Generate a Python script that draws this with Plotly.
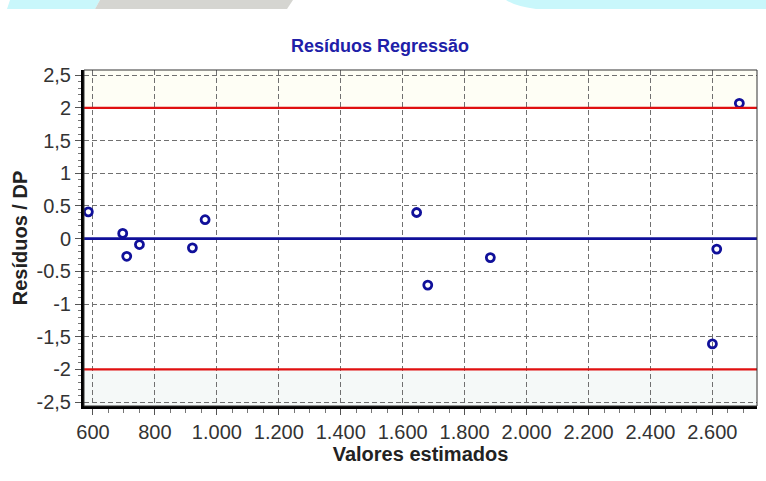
import plotly.graph_objects as go

# Fitted values and standardized residuals
valores_estimados = [585, 696, 709, 750, 921, 962, 1645, 1681, 1883, 2600, 2614, 2687]
residuos_dp = [0.41, 0.08, -0.27, -0.09, -0.14, 0.29, 0.40, -0.71, -0.29, -1.61, -0.16, 2.07]

# Reference lines: control limits and zero
limites = [-2, 2]
linha_zero = 0

x_ticks = [600, 800, 1000, 1200, 1400, 1600, 1800, 2000, 2200, 2400, 2600]
x_ticktext = ["600", "800", "1.000", "1.200", "1.400", "1.600", "1.800",
              "2.000", "2.200", "2.400", "2.600"]
y_ticks = [2.5, 2, 1.5, 1, 0.5, 0, -0.5, -1, -1.5, -2, -2.5]
y_ticktext = ["2,5", "2", "1,5", "1", "0.5", "0", "-0.5", "-1", "-1,5", "-2", "-2,5"]

W, H = 766, 481
L, R, T, B = 84, 9, 70, 75
PW, PH = W - L - R, H - T - B


def px(x):
    return (x - L) / PW


def py(y):
    return (H - B - y) / PH


font = "Liberation Sans, Arial, sans-serif"

fig = go.Figure()
fig.add_trace(go.Scatter(
    x=valores_estimados, y=residuos_dp, mode="markers",
    marker=dict(symbol="circle-open", size=8, color="#10109a",
                line=dict(width=2.8, color="#10109a")),
    hoverinfo="x+y", showlegend=False,
))

shapes = []
# faint bands beyond the limits
shapes.append(dict(type="rect", xref="paper", yref="y", x0=0, x1=1,
                   y0=limites[1], y1=2.6, fillcolor="#fefef5",
                   line=dict(width=0), layer="below"))
shapes.append(dict(type="rect", xref="paper", yref="y", x0=0, x1=1,
                   y0=-2.6, y1=limites[0], fillcolor="#f5f9f8",
                   line=dict(width=0), layer="below"))
for lim in limites:
    shapes.append(dict(type="line", xref="paper", yref="y", x0=0, x1=1,
                       y0=lim, y1=lim, line=dict(color="#e01010", width=2.2)))
shapes.append(dict(type="line", xref="paper", yref="y", x0=0, x1=1,
                   y0=linha_zero, y1=linha_zero,
                   line=dict(color="#10109a", width=2.6)))
# thin frame on top/right
shapes.append(dict(type="rect", xref="paper", yref="paper", x0=0, x1=1,
                   y0=0, y1=1, line=dict(color="#333333", width=1)))

# decorative banner strip at the top of the page
shapes.append(dict(type="path", xref="paper", yref="paper",
                   path=f"M {px(7)},{py(9)} L {px(10)},{py(0)} L {px(100)},{py(0)} "
                        f"L {px(95)},{py(9)} Z",
                   fillcolor="#c9f7fb", line=dict(width=0), layer="below"))
shapes.append(dict(type="path", xref="paper", yref="paper",
                   path=f"M {px(95)},{py(9)} L {px(100)},{py(0)} L {px(293)},{py(0)} "
                        f"L {px(287)},{py(9)} Z",
                   fillcolor="#d5d5d1", line=dict(width=0), layer="below"))
shapes.append(dict(type="path", xref="paper", yref="paper",
                   path=f"M {px(506)},{py(0)} Q {px(515)},{py(6)} {px(536)},{py(9)} "
                        f"L {px(766)},{py(9)} L {px(766)},{py(0)} Z",
                   fillcolor="#c9f7fb", line=dict(width=0), layer="below"))

fig.update_layout(
    width=W, height=H,
    margin=dict(l=L, r=R, t=T, b=B),
    paper_bgcolor="white", plot_bgcolor="white",
    font=dict(family=font, color="#333333"),
    title=dict(text="<b>Resíduos Regressão</b>", xref="container", yref="container",
               x=380 / W, y=1 - 46 / H, xanchor="center", yanchor="middle",
               font=dict(size=18, color="#2020a8", family=font)),
    shapes=shapes,
    xaxis=dict(
        range=[571, 2744], tickvals=x_ticks, ticktext=x_ticktext,
        tickfont=dict(size=20, color="#333333"),
        showgrid=True, gridcolor="#707070", griddash="5px,3px", gridwidth=1,
        zeroline=False, showline=True, linecolor="black", linewidth=3,
        ticks="outside", ticklen=6, tickcolor="#555555",
        minor=dict(dtick=50, tick0=0, ticks="outside", ticklen=4,
                   tickcolor="#777777", showgrid=False),
        title=dict(text="<b>Valores estimados</b>", standoff=2,
                   font=dict(size=20, color="#222222")),
    ),
    yaxis=dict(
        range=[-2.56, 2.58], tickvals=y_ticks, ticktext=y_ticktext,
        tickfont=dict(size=20, color="#333333"),
        showgrid=True, gridcolor="#707070", griddash="5px,3px", gridwidth=1,
        zeroline=False, showline=True, linecolor="black", linewidth=3,
        ticks="outside", ticklen=6, tickcolor="#555555",
        minor=dict(dtick=0.1, ticks="outside", ticklen=3,
                   tickcolor="#777777", showgrid=False),
        title=dict(text="<b>Resíduos / DP</b>", standoff=4,
                   font=dict(size=20, color="#222222")),
    ),
)

fig.write_html("out.html")
